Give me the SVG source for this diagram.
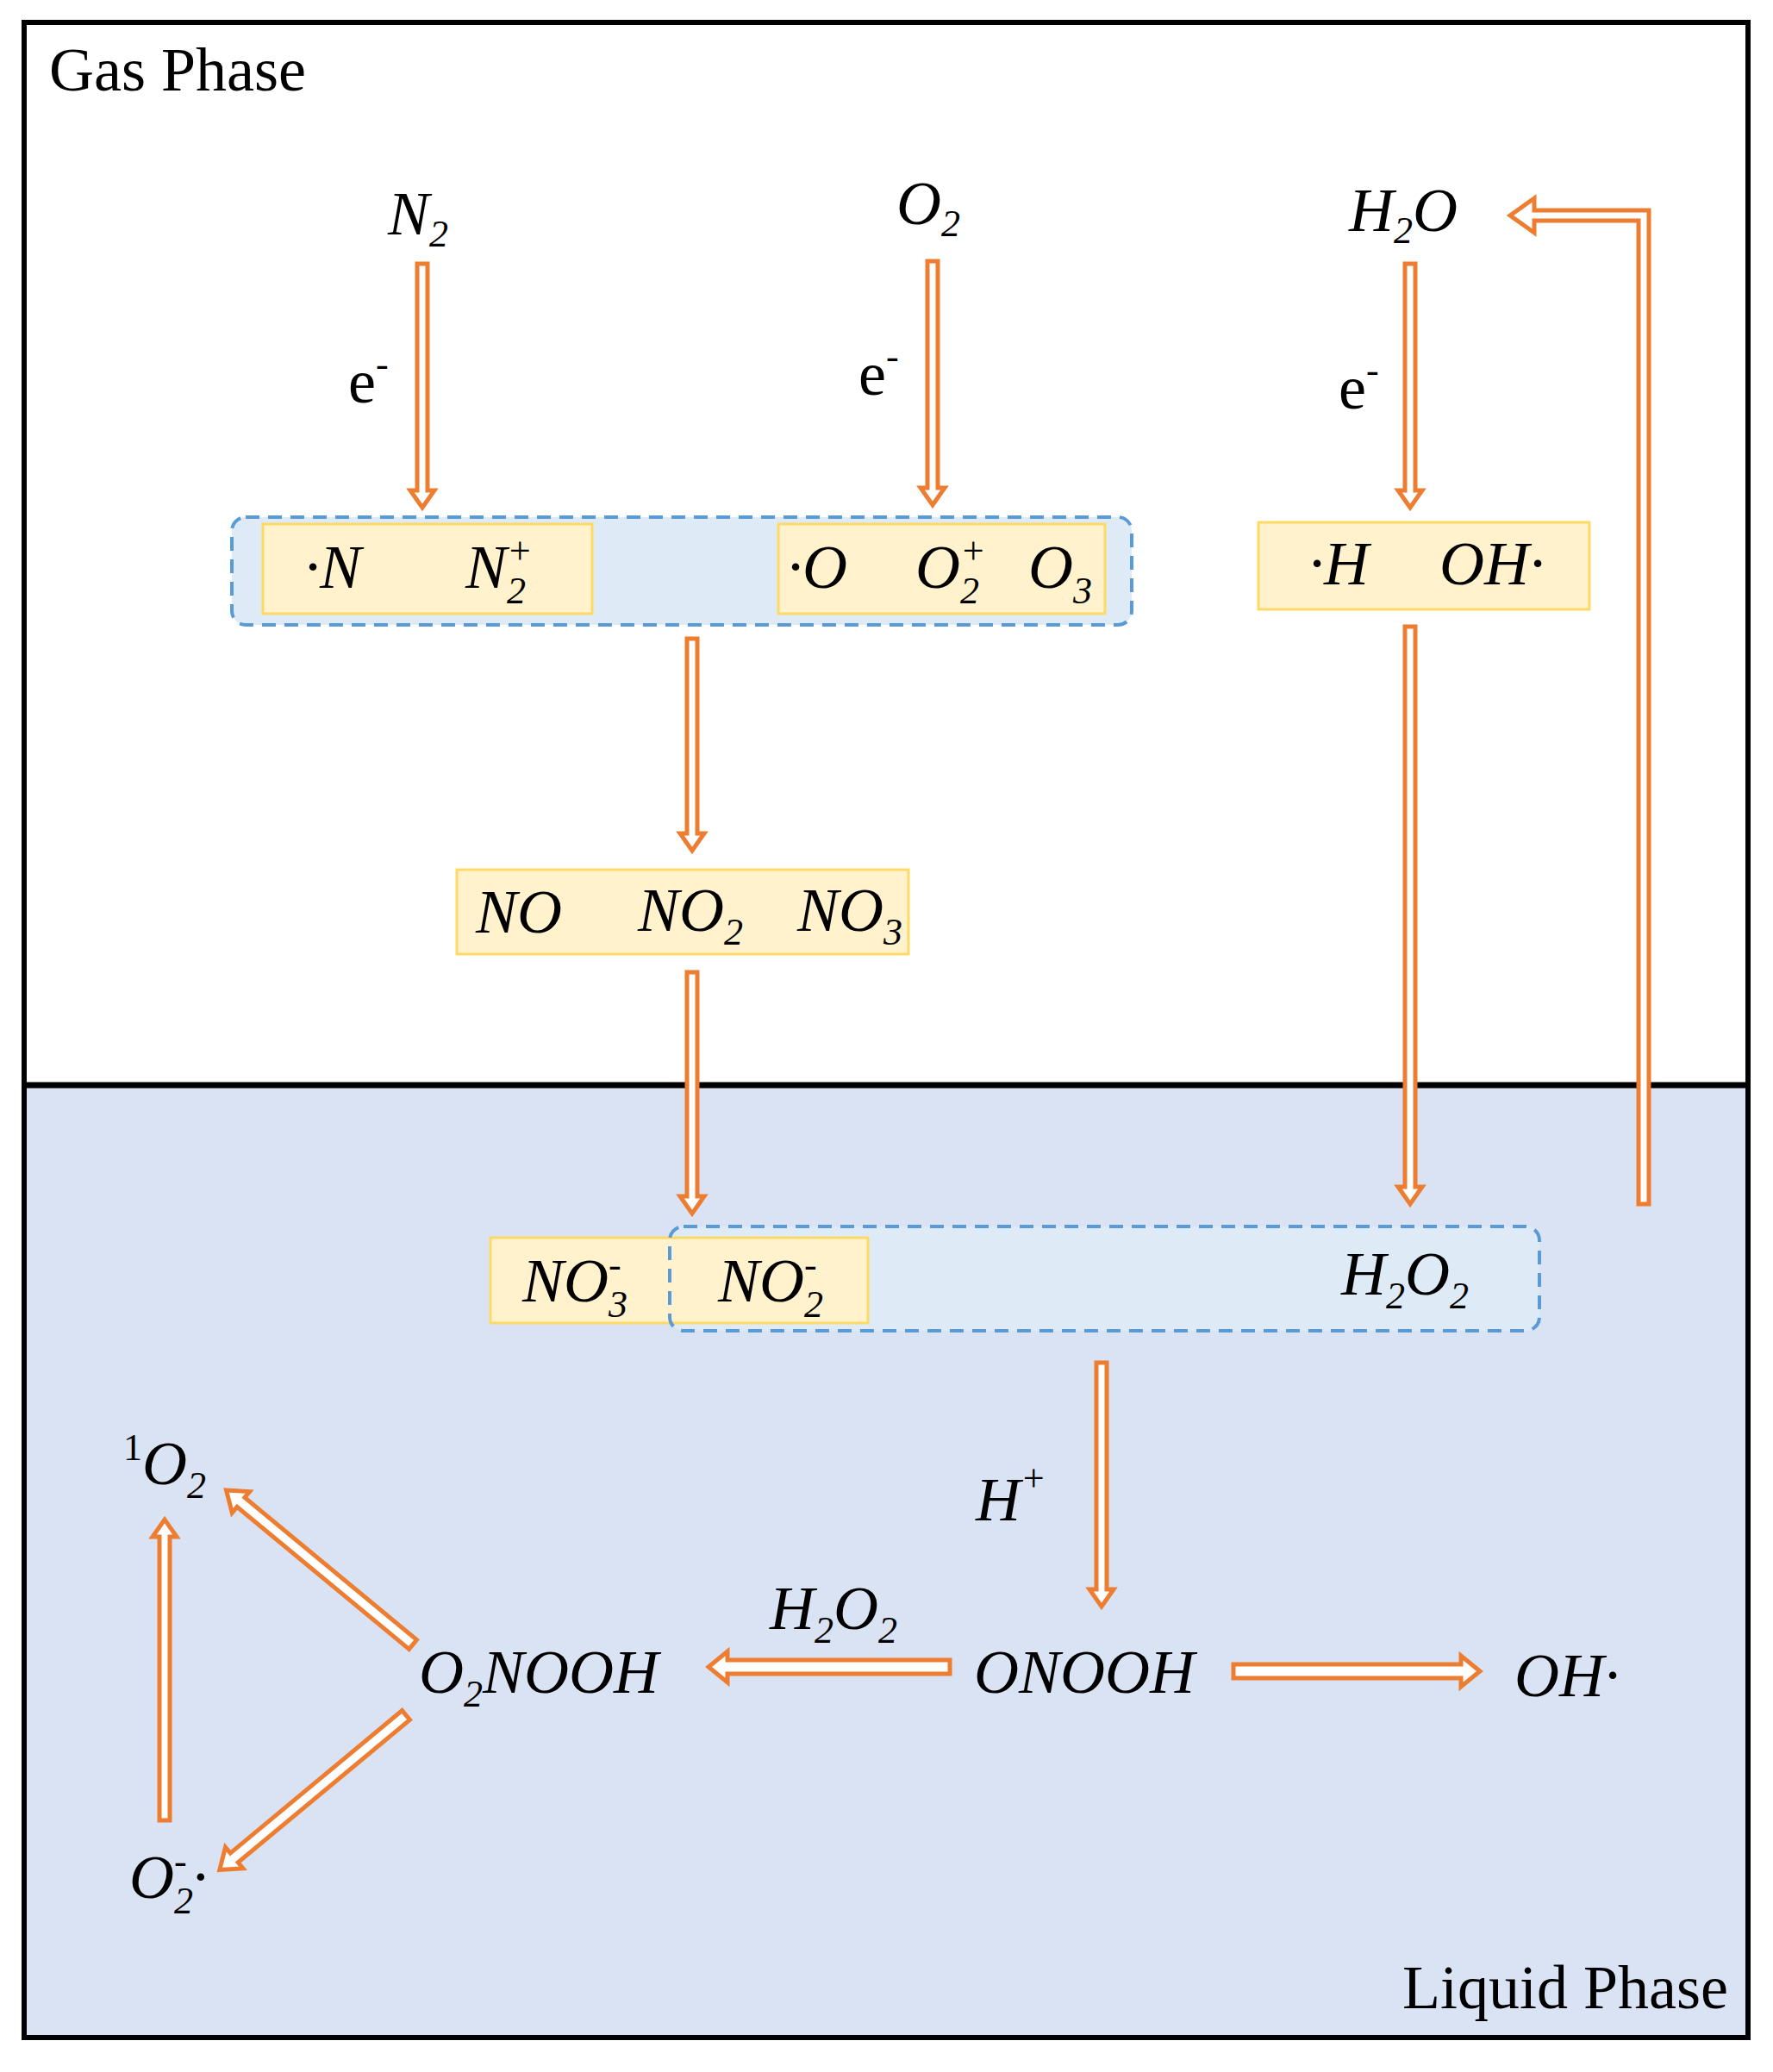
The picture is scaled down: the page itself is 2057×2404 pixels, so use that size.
<svg xmlns="http://www.w3.org/2000/svg" width="2057" height="2404" viewBox="0 0 2057 2404">
<style>
text{font-family:"Liberation Serif","Times New Roman",serif;fill:#000}
.m{font-style:italic;font-size:72px}
.lab{font-size:72px}
.s{font-size:44px}
.y{fill:#fff2cc;stroke:#ffd966;stroke-width:3}
.d{fill:#deebf7;stroke:#5b9bd5;stroke-width:4;stroke-dasharray:16 10}
.dl{fill:none;stroke:#5b9bd5;stroke-width:4;stroke-dasharray:16 10}
.a{fill:#fff;stroke:#ed7d31;stroke-width:5;stroke-linejoin:miter}
</style>
<rect x="0" y="0" width="2057" height="2404" fill="#fff"/>
<g id="phases">
<rect x="28" y="1259" width="2000" height="1105" fill="#dae3f3"/>
<rect x="28" y="26" width="2000" height="2338" fill="none" stroke="#000" stroke-width="6"/>
<line x1="28" y1="1259" x2="2028" y2="1259" stroke="#000" stroke-width="7"/>
<text x="57" y="105" class="lab">Gas Phase</text>
<text x="2005" y="2330" class="lab" text-anchor="end">Liquid Phase</text>
</g>
<g id="connectors">
<g transform="translate(490,306) rotate(90)"><path class="a" d="M0,-6H263V-14L283,0L263,14V6H0Z"/></g>
<g transform="translate(1082,303) rotate(90)"><path class="a" d="M0,-6H263V-14L283,0L263,14V6H0Z"/></g>
<g transform="translate(1636,306) rotate(90)"><path class="a" d="M0,-6H263V-14L283,0L263,14V6H0Z"/></g>
<g transform="translate(803,741) rotate(90)"><path class="a" d="M0,-6H226V-14L246,0L226,14V6H0Z"/></g>
<g transform="translate(803,1128) rotate(90)"><path class="a" d="M0,-6H260V-14L280,0L260,14V6H0Z"/></g>
<g transform="translate(1636,727) rotate(90)"><path class="a" d="M0,-6H650V-14L670,0L650,14V6H0Z"/></g>
<path class="a" d="M1901,1397V256H1780V270L1752,250L1780,230V244H1913V1397Z"/>
<g transform="translate(1278,1581) rotate(90)"><path class="a" d="M0,-6H263V-14L283,0L263,14V6H0Z"/></g>
<g transform="translate(1102,1934) rotate(180)"><path class="a" d="M0,-8H258V-18L280,0L258,18V8H0Z"/></g>
<g transform="translate(1431,1939)"><path class="a" d="M0,-8H264V-18L286,0L264,18V8H0Z"/></g>
<g transform="translate(479,1908) rotate(219.6)"><path class="a" d="M0,-7H259V-16L281,0L259,16V7H0Z"/></g>
<g transform="translate(471,1990) rotate(140.3)"><path class="a" d="M0,-7H259V-16L281,0L259,16V7H0Z"/></g>
<g transform="translate(191,2112) rotate(-90)"><path class="a" d="M0,-6H329V-14L349,0L329,14V6H0Z"/></g>
</g>
<g id="n2"><text x="450" y="272" class="m">N<tspan class="s" dy="14">2</tspan></text></g>
<g id="o2"><text x="1040" y="260" class="m">O<tspan class="s" dy="14">2</tspan></text></g>
<g id="h2o"><text x="1565" y="268" class="m">H<tspan class="s" dy="14">2</tspan><tspan dy="-14">O</tspan></text></g>
<g id="e1"><text x="404" y="467" class="lab">e<tspan class="s" dy="-30">-</tspan></text></g>
<g id="e2"><text x="996" y="458" class="lab">e<tspan class="s" dy="-30">-</tspan></text></g>
<g id="e3"><text x="1553" y="474" class="lab">e<tspan class="s" dy="-30">-</tspan></text></g>
<g id="gas-radicals">
<rect class="d" x="269" y="600" width="1044" height="125" rx="16"/>
<rect class="y" x="305" y="608" width="382" height="104"/>
<text x="353" y="682" class="m">·N</text>
<text x="540" y="682" class="m">N<tspan class="s" dy="18">2</tspan><tspan class="s" dx="-22" dy="-46">+</tspan></text>
<rect class="y" x="903" y="608" width="379" height="104"/>
<text x="913" y="682" class="m">·O</text>
<text x="1062" y="682" class="m">O<tspan class="s" dy="18">2</tspan><tspan class="s" dx="-22" dy="-46">+</tspan></text>
<text x="1193" y="682" class="m">O<tspan class="s" dy="18">3</tspan></text>
</g>
<g id="h-oh">
<rect class="y" x="1460" y="606" width="384" height="101"/>
<text x="1518" y="678" class="m">·H</text>
<text x="1670" y="678" class="m">OH·</text>
</g>
<g id="nox">
<rect class="y" x="530" y="1009" width="524" height="98"/>
<text x="552" y="1082" class="m">NO</text>
<text x="740" y="1080" class="m">NO<tspan class="s" dy="16">2</tspan></text>
<text x="925" y="1080" class="m">NO<tspan class="s" dy="16">3</tspan></text>
</g>
<g id="liquid-species">
<rect x="777" y="1423" width="1009" height="121" rx="16" fill="#deebf7"/>
<rect class="y" x="569" y="1436" width="438" height="99"/>
<rect class="dl" x="777" y="1423" width="1009" height="121" rx="16"/>
<text x="606" y="1510" class="m">NO<tspan class="s" dy="18">3</tspan><tspan class="s" dx="-22" dy="-46">-</tspan></text>
<text x="833" y="1510" class="m">NO<tspan class="s" dy="18">2</tspan><tspan class="s" dx="-22" dy="-46">-</tspan></text>
<text x="1556" y="1502" class="m">H<tspan class="s" dy="16">2</tspan><tspan dy="-16">O</tspan><tspan class="s" dy="16">2</tspan></text>
</g>
<g id="hplus"><text x="1132" y="1764" class="m">H<tspan class="s" dy="-34">+</tspan></text></g>
<g id="onooh"><text x="1130" y="1964" class="m">ONOOH</text></g>
<g id="h2o2-label"><text x="893" y="1890" class="m">H<tspan class="s" dy="16">2</tspan><tspan dy="-16">O</tspan><tspan class="s" dy="16">2</tspan></text></g>
<g id="o2nooh"><text x="486" y="1964" class="m">O<tspan class="s" dy="16">2</tspan><tspan dy="-16">NOOH</tspan></text></g>
<g id="oh"><text x="1757" y="1968" class="m">OH·</text></g>
<g id="singlet-o2"><text x="143" y="1722" class="m"><tspan class="s" font-style="normal" dy="-28">1</tspan><tspan dy="28">O</tspan><tspan class="s" dy="16">2</tspan></text></g>
<g id="superoxide"><text x="150" y="2202" class="m">O<tspan class="s" dy="18">2</tspan><tspan class="s" dx="-22" dy="-46">-</tspan><tspan dx="6" dy="28">·</tspan></text></g>
</svg>
